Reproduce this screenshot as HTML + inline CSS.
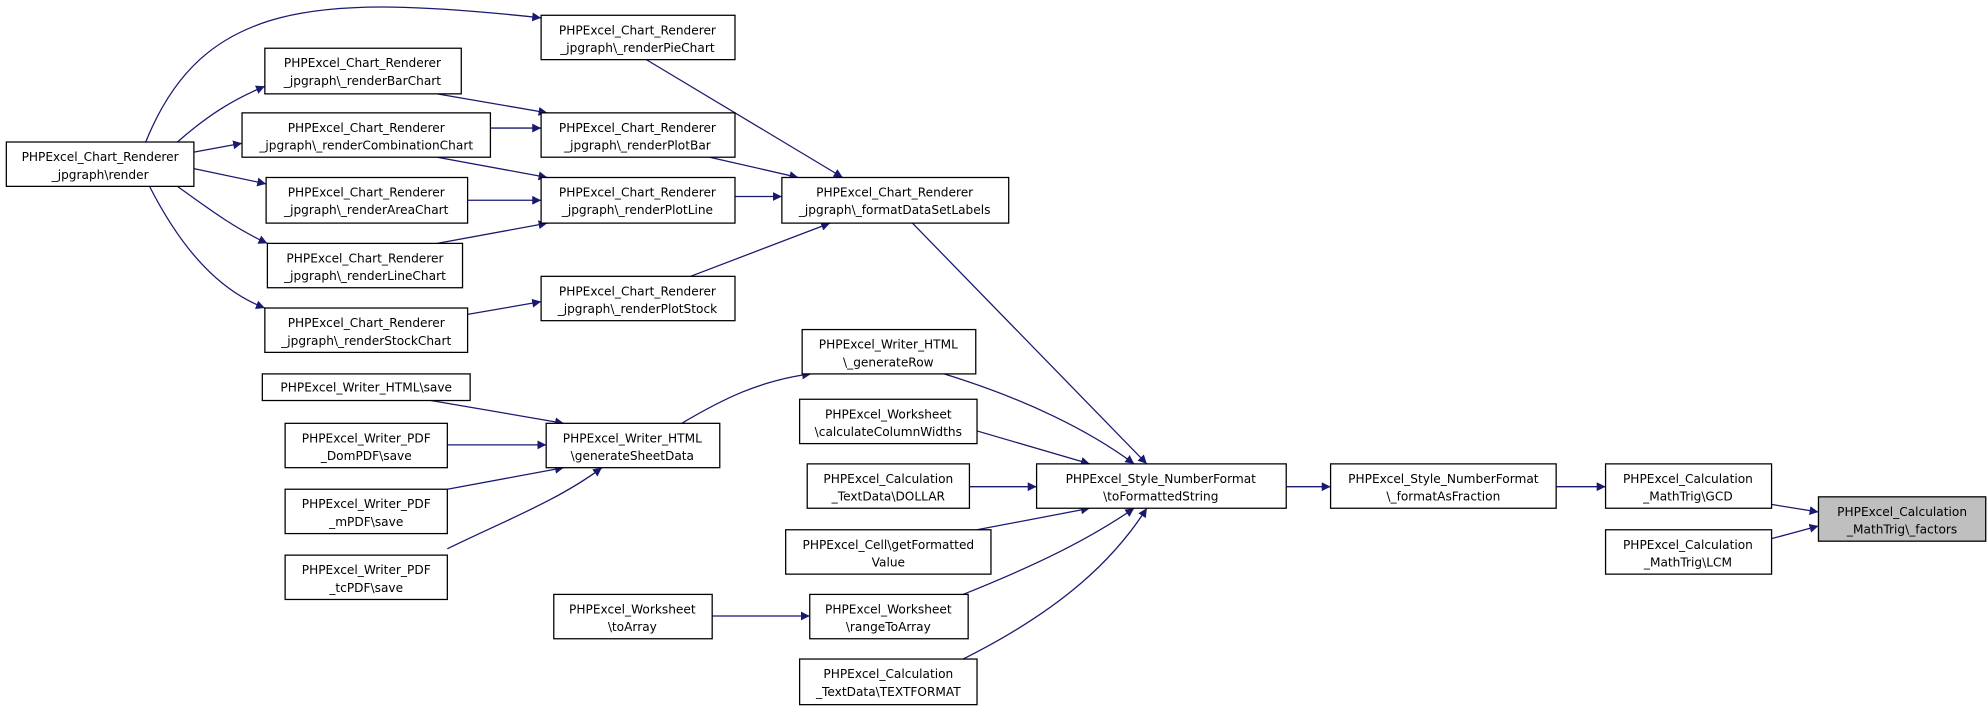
<!DOCTYPE html>
<html><head><meta charset="utf-8"><style>html,body{margin:0;padding:0;background:#fff}svg{display:block}</style></head>
<body>
<svg width="1987" height="706" viewBox="0 0 1568 557" xmlns="http://www.w3.org/2000/svg">
<defs><marker id="a" viewBox="0 0 10 10" refX="10" refY="5" markerWidth="7" markerHeight="7" markerUnits="userSpaceOnUse" orient="auto"><path d="M0,0L10,5L0,10z" fill="#191970"/></marker></defs>
<g fill="none" stroke="#191970" stroke-width="1" marker-end="url(#a)">
<path d="M115,112 C160,0 250,-5 427,14"/>
<path d="M140,112 C165,90 185,78 209,68"/>
<path d="M153,120 L191,113"/>
<path d="M153,133 L210,145"/>
<path d="M140,147 C165,165 185,180 211,192"/>
<path d="M118,147 C145,200 175,230 209,243"/>
<path d="M345,74 L432,89"/>
<path d="M387,101 L427,101"/>
<path d="M345,124 L432,140"/>
<path d="M369,158 L427,158"/>
<path d="M345,192 L432,176"/>
<path d="M369,248 L427,238"/>
<path d="M510,47 L665,140"/>
<path d="M560,124 L630,140"/>
<path d="M580,155 L617,155"/>
<path d="M545,218 L655,176"/>
<path d="M720,176 L905,366"/>
<path d="M745,295 C810,315 860,340 895,366"/>
<path d="M771,340 L860,366"/>
<path d="M765,384 L818,384"/>
<path d="M771,418 L860,401"/>
<path d="M760,469 C820,445 860,425 895,401"/>
<path d="M760,520 C840,480 880,440 905,401"/>
<path d="M340,316 L445,334"/>
<path d="M353,351 L431,351"/>
<path d="M353,386 L445,369"/>
<path d="M353,433 C400,410 440,395 475,369"/>
<path d="M538,334 C570,315 600,300 640,295"/>
<path d="M562,486 L639,486"/>
<path d="M1015,384 L1050,384"/>
<path d="M1228,384 L1267,384"/>
<path d="M1398,398 L1435,404"/>
<path d="M1398,425 L1435,415"/>
</g>
<g stroke="#000" stroke-width="1" fill="#fff">
<rect x="5" y="112" width="148" height="35"/>
<rect x="427" y="12" width="153" height="35"/>
<rect x="209" y="38" width="155" height="36"/>
<rect x="191" y="89" width="196" height="35"/>
<rect x="210" y="140" width="159" height="36"/>
<rect x="211" y="192" width="154" height="35"/>
<rect x="209" y="243" width="160" height="35"/>
<rect x="427" y="89" width="153" height="35"/>
<rect x="427" y="140" width="153" height="36"/>
<rect x="427" y="218" width="153" height="35"/>
<rect x="617" y="140" width="179" height="36"/>
<rect x="207" y="295" width="164" height="21"/>
<rect x="225" y="334" width="128" height="35"/>
<rect x="225" y="386" width="128" height="35"/>
<rect x="225" y="438" width="128" height="35"/>
<rect x="431" y="334" width="137" height="35"/>
<rect x="633" y="260" width="137" height="35"/>
<rect x="631" y="315" width="140" height="35"/>
<rect x="637" y="366" width="128" height="35"/>
<rect x="620" y="418" width="162" height="35"/>
<rect x="437" y="469" width="125" height="35"/>
<rect x="639" y="469" width="125" height="35"/>
<rect x="631" y="520" width="140" height="36"/>
<rect x="818" y="366" width="197" height="35"/>
<rect x="1050" y="366" width="178" height="35"/>
<rect x="1267" y="366" width="131" height="35"/>
<rect x="1267" y="418" width="131" height="35"/>
<rect x="1435" y="392" width="132" height="35" fill="#bfbfbf"/>
</g>
<g font-family="'DejaVu Sans','Liberation Sans',sans-serif" font-size="9.6" text-anchor="middle" fill="#000">
<text x="79" y="127">PHPExcel_Chart_Renderer</text><text x="79" y="141">_jpgraph\render</text>
<text x="503" y="27">PHPExcel_Chart_Renderer</text><text x="503" y="41">_jpgraph\_renderPieChart</text>
<text x="286" y="53">PHPExcel_Chart_Renderer</text><text x="286" y="67">_jpgraph\_renderBarChart</text>
<text x="289" y="104">PHPExcel_Chart_Renderer</text><text x="289" y="118">_jpgraph\_renderCombinationChart</text>
<text x="289" y="155">PHPExcel_Chart_Renderer</text><text x="289" y="169">_jpgraph\_renderAreaChart</text>
<text x="288" y="207">PHPExcel_Chart_Renderer</text><text x="288" y="221">_jpgraph\_renderLineChart</text>
<text x="289" y="258">PHPExcel_Chart_Renderer</text><text x="289" y="272">_jpgraph\_renderStockChart</text>
<text x="503" y="104">PHPExcel_Chart_Renderer</text><text x="503" y="118">_jpgraph\_renderPlotBar</text>
<text x="503" y="155">PHPExcel_Chart_Renderer</text><text x="503" y="169">_jpgraph\_renderPlotLine</text>
<text x="503" y="233">PHPExcel_Chart_Renderer</text><text x="503" y="247">_jpgraph\_renderPlotStock</text>
<text x="706" y="155">PHPExcel_Chart_Renderer</text><text x="706" y="169">_jpgraph\_formatDataSetLabels</text>
<text x="289" y="309">PHPExcel_Writer_HTML\save</text>
<text x="289" y="349">PHPExcel_Writer_PDF</text><text x="289" y="363">_DomPDF\save</text>
<text x="289" y="401">PHPExcel_Writer_PDF</text><text x="289" y="415">_mPDF\save</text>
<text x="289" y="453">PHPExcel_Writer_PDF</text><text x="289" y="467">_tcPDF\save</text>
<text x="499" y="349">PHPExcel_Writer_HTML</text><text x="499" y="363">\generateSheetData</text>
<text x="701" y="275">PHPExcel_Writer_HTML</text><text x="701" y="289">\_generateRow</text>
<text x="701" y="330">PHPExcel_Worksheet</text><text x="701" y="344">\calculateColumnWidths</text>
<text x="701" y="381">PHPExcel_Calculation</text><text x="701" y="395">_TextData\DOLLAR</text>
<text x="701" y="433">PHPExcel_Cell\getFormatted</text><text x="701" y="447">Value</text>
<text x="499" y="484">PHPExcel_Worksheet</text><text x="499" y="498">\toArray</text>
<text x="701" y="484">PHPExcel_Worksheet</text><text x="701" y="498">\rangeToArray</text>
<text x="701" y="535">PHPExcel_Calculation</text><text x="701" y="549">_TextData\TEXTFORMAT</text>
<text x="916" y="381">PHPExcel_Style_NumberFormat</text><text x="916" y="395">\toFormattedString</text>
<text x="1139" y="381">PHPExcel_Style_NumberFormat</text><text x="1139" y="395">\_formatAsFraction</text>
<text x="1332" y="381">PHPExcel_Calculation</text><text x="1332" y="395">_MathTrig\GCD</text>
<text x="1332" y="433">PHPExcel_Calculation</text><text x="1332" y="447">_MathTrig\LCM</text>
<text x="1501" y="407">PHPExcel_Calculation</text><text x="1501" y="421">_MathTrig\_factors</text>
</g>
</svg>
</body></html>
